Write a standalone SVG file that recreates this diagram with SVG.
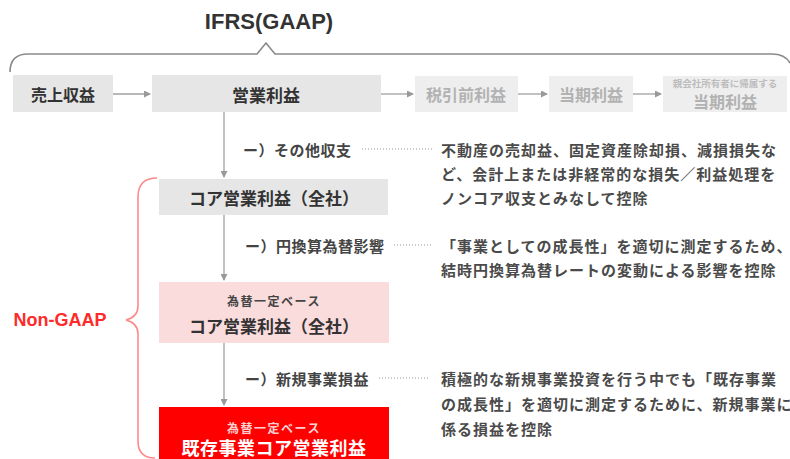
<svg xmlns="http://www.w3.org/2000/svg" width="790" height="459" viewBox="0 0 790 459">
<defs>
<style>
.jp{font-family:"Noto Sans CJK JP","Noto Sans",sans-serif;}
.box{fill:#e6e6e6;}
.fbox{fill:#eeeeee;}
.bt{font-size:17px;font-weight:bold;fill:#333;text-anchor:middle;dominant-baseline:central;}
.ft{font-size:16px;font-weight:bold;fill:#b2b2b2;text-anchor:middle;dominant-baseline:central;}
.lbl{font-size:15px;font-weight:bold;fill:#444;dominant-baseline:central;letter-spacing:0.5px;}
.desc{font-size:15px;font-weight:bold;fill:#4a4a4a;dominant-baseline:central;letter-spacing:1px;}
.ln{stroke:#a0a0a0;stroke-width:1.3;fill:none;}
.dot{stroke:#999;stroke-width:1;stroke-dasharray:1 2;fill:none;}
</style>
<marker id="ah" markerWidth="7" markerHeight="7" refX="6" refY="3.5" orient="auto" markerUnits="userSpaceOnUse">
<path d="M0,0 L7,3.5 L0,7 z" fill="#999"/>
</marker>
</defs>
<rect width="790" height="459" fill="#ffffff"/>

<g id="ifrs-brace">
<path d="M10,72 Q10,54 28,54 L257,54 L266,43 L275,54 L772,54 Q785,54 790,63" fill="none" stroke="#8a8a8a" stroke-width="1.6"/>
<text x="269" y="21" font-family="Liberation Sans, Arial, sans-serif" font-size="22" font-weight="bold" fill="#333" text-anchor="middle" dominant-baseline="central">IFRS(GAAP)</text>
</g>

<g id="nongaap-brace">
<path d="M157,178 Q138,178 138,197 L138,306 Q138,317 126,320 Q138,323 138,334 L138,441 Q138,458 155,458" fill="none" stroke="#ff8a8a" stroke-width="1.6"/>
<text x="60" y="320" font-family="Liberation Sans, Arial, sans-serif" font-size="18" font-weight="bold" fill="#ff2a2a" text-anchor="middle" dominant-baseline="central">Non-GAAP</text>
</g>

<g id="connectors">
<line class="ln" x1="113" y1="94" x2="150" y2="94" marker-end="url(#ah)"/>
<line class="ln" x1="381" y1="94" x2="413" y2="94" marker-end="url(#ah)"/>
<line class="ln" x1="518" y1="94" x2="547" y2="94" marker-end="url(#ah)"/>
<line class="ln" x1="633" y1="94" x2="661" y2="94" marker-end="url(#ah)"/>
<line class="ln" x1="224" y1="112" x2="224" y2="177" marker-end="url(#ah)"/>
<line class="ln" x1="224" y1="215" x2="224" y2="280" marker-end="url(#ah)"/>
<line class="ln" x1="224" y1="343" x2="224" y2="405" marker-end="url(#ah)"/>
<line class="dot" x1="362" y1="149" x2="432" y2="149"/>
<line class="dot" x1="394" y1="245" x2="431" y2="245"/>
<line class="dot" x1="379" y1="378" x2="430" y2="378"/>
</g>

<g id="uriage" class="jp">
<rect class="box" x="13" y="75" width="100" height="37"/>
<text class="bt" x="63" y="94" style="font-size:16px">売上収益</text>
</g>
<g id="eigyo" class="jp">
<rect class="box" x="152" y="75" width="229" height="37"/>
<text class="bt" x="266" y="94">営業利益</text>
</g>
<g id="zeibiki" class="jp">
<rect class="fbox" x="415" y="76" width="103" height="36"/>
<text class="ft" x="466" y="94">税引前利益</text>
</g>
<g id="toki" class="jp">
<rect class="fbox" x="549" y="76" width="84" height="36"/>
<text class="ft" x="591" y="94">当期利益</text>
</g>
<g id="oyagaisha" class="jp">
<rect class="fbox" x="663" y="76" width="124" height="36"/>
<text x="725" y="83" font-size="9.5" font-weight="bold" fill="#bdbdbd" text-anchor="middle" dominant-baseline="central">親会社所有者に帰属する</text>
<text class="ft" x="725" y="101">当期利益</text>
</g>

<g id="core" class="jp">
<rect class="box" x="159" y="179" width="229" height="36"/>
<text class="bt" x="274" y="197">コア営業利益（全社）</text>
</g>
<g id="core-fx" class="jp">
<rect x="159" y="282" width="230" height="61" fill="#fbdcdd"/>
<text x="274" y="300" font-size="12" font-weight="bold" fill="#444" text-anchor="middle" dominant-baseline="central" letter-spacing="1.5">為替一定ベース</text>
<text class="bt" x="274" y="325">コア営業利益（全社）</text>
</g>
<g id="existing-core" class="jp">
<rect x="159" y="407" width="230" height="60" fill="#ff0000"/>
<text x="274" y="427" font-size="12" font-weight="bold" fill="#ffd0d0" text-anchor="middle" dominant-baseline="central" letter-spacing="1.5">為替一定ベース</text>
<text x="274" y="447" font-size="18" font-weight="bold" fill="#ffffff" text-anchor="middle" dominant-baseline="central" letter-spacing="0.5">既存事業コア営業利益</text>
</g>

<g id="note-other" class="jp">
<text class="lbl" x="243" y="149">ー）その他収支</text>
<text class="desc" x="441" y="149">不動産の売却益、固定資産除却損、減損損失な</text>
<text class="desc" x="441" y="173">ど、会計上または非経常的な損失／利益処理を</text>
<text class="desc" x="441" y="197">ノンコア収支とみなして控除</text>
</g>
<g id="note-fx" class="jp">
<text class="lbl" x="245" y="245">ー）円換算為替影響</text>
<text class="desc" x="441" y="245">「事業としての成長性」を適切に測定するため、連</text>
<text class="desc" x="441" y="269">結時円換算為替レートの変動による影響を控除</text>
</g>
<g id="note-new" class="jp">
<text class="lbl" x="245" y="378">ー）新規事業損益</text>
<text class="desc" x="441" y="378">積極的な新規事業投資を行う中でも「既存事業</text>
<text class="desc" x="441" y="403">の成長性」を適切に測定するために、新規事業に</text>
<text class="desc" x="441" y="428">係る損益を控除</text>
</g>
</svg>
